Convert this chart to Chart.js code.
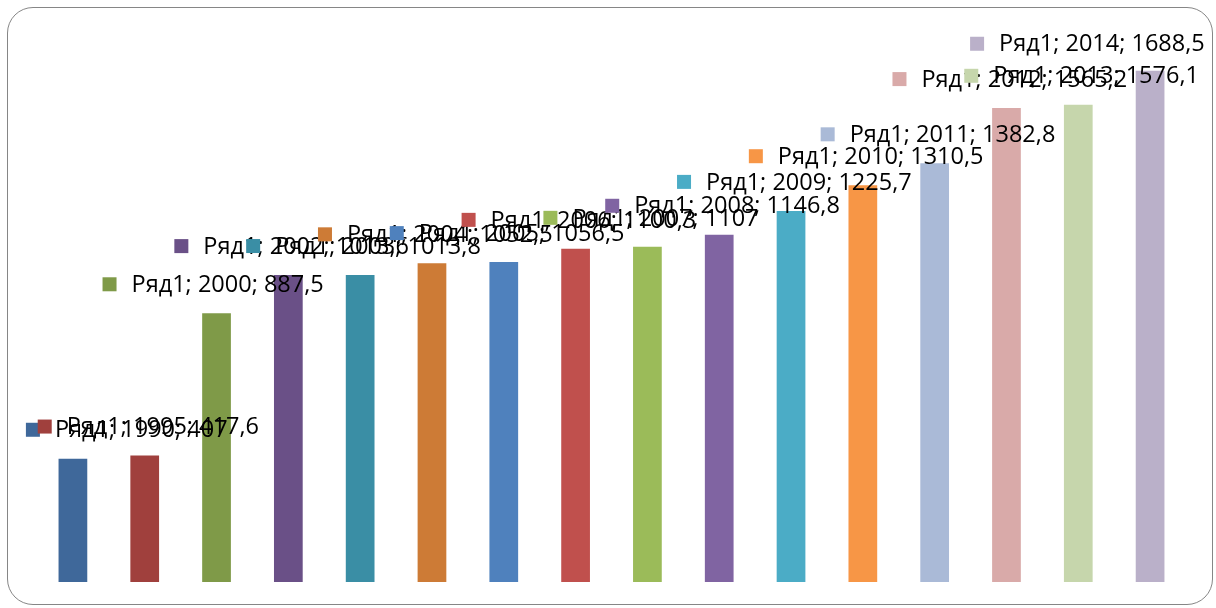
<!DOCTYPE html>
<html lang="ru">
<head>
    <meta charset="UTF-8">
    <title>Ряд1</title>
    <script src="https://cdn.jsdelivr.net/npm/chart.js"></script>
    <style>
        html, body {
            margin: 0;
            padding: 0;
            background: #fff;
        }
        #wrap {
            position: relative;
            width: 1216px;
            height: 608px;
        }
        #frame {
            position: absolute;
            left: 7px;
            top: 7px;
            width: 1204px;
            height: 596px;
            border: 1.5px solid #868686;
            border-radius: 26px;
            pointer-events: none;
        }
    </style>
</head>
<body>
<div id="wrap">
    <canvas id="chart" width="1216" height="608"></canvas>
    <div id="frame"></div>
</div>

<script>
    // data
    const seriesName = "Ряд1";
    const years = ["1990", "1995", "2000", "2002", "2003", "2004", "2005", "2006",
                   "2007", "2008", "2009", "2010", "2011", "2012", "2013", "2014"];
    const values = [407, 417.6, 887.5, 1013.6, 1013.8, 1052.5, 1056.5, 1100.3,
                    1107, 1146.8, 1225.7, 1310.5, 1382.8, 1565.2, 1576.1, 1688.5];

    const barColors = ["#3F689A", "#A0403D", "#7F9A48", "#6A5087", "#3A8EA5", "#CD7B36",
                       "#4F81BD", "#C0504D", "#9BBB59", "#8064A2", "#4BACC6", "#F79646",
                       "#AABAD7", "#D9AAA9", "#C6D6AC", "#BAB0C9"];

    // label placement relative to the bar top (marker left edge / marker centre)
    const labelShift = { dx: -114, dy: -29 };
    const labelShiftByYear = {
        "1990": { dx: -47, dy: -29 },
        "1995": { dx: -107, dy: -29 },
        "2007": { dx: -104, dy: -29 },
        "2014": { dx: -180, dy: -27 }
    };

    function fmt(v) {
        return String(v).replace(".", ",");
    }

    const labelPlugin = {
        id: "pointLabels",
        afterDatasetsDraw(chart) {
            const ctx = chart.ctx;
            const meta = chart.getDatasetMeta(0);
            ctx.save();
            ctx.font = "23.5px 'Open Sans'";
            ctx.textBaseline = "middle";
            meta.data.forEach((bar, i) => {
                const s = labelShiftByYear[years[i]] || labelShift;
                const mx = bar.x + s.dx;
                const my = bar.y + s.dy;
                ctx.fillStyle = barColors[i];
                ctx.fillRect(mx, my - 7, 14, 14);
                ctx.fillStyle = "#000";
                ctx.fillText(seriesName + "; " + years[i] + "; " + fmt(values[i]), mx + 29, my + 1);
            });
            ctx.restore();
        }
    };

    new Chart(document.getElementById("chart"), {
        type: "bar",
        data: {
            labels: years,
            datasets: [{
                label: seriesName,
                data: values,
                backgroundColor: barColors,
                borderWidth: 0,
                barPercentage: 0.4,
                categoryPercentage: 1
            }]
        },
        options: {
            responsive: false,
            animation: false,
            layout: {
                padding: { left: 37, right: 30, top: 37, bottom: 26 }
            },
            plugins: {
                legend: { display: false },
                tooltip: { enabled: false }
            },
            scales: {
                x: { display: false },
                y: { display: false, min: 0, max: 1800 }
            }
        },
        plugins: [labelPlugin]
    });
</script>
</body>
</html>
